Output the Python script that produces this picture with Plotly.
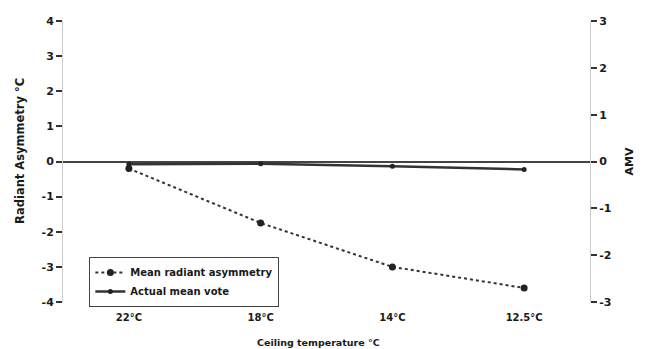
import plotly.graph_objects as go

categories = ["22°C", "18°C", "14°C", "12.5°C"]
mean_radiant_asymmetry = [-0.2, -1.75, -3.0, -3.6]
actual_mean_vote = [-0.06, -0.05, -0.1, -0.17]
left_ticks = [-4, -3, -2, -1, 0, 1, 2, 3, 4]
right_ticks = [-3, -2, -1, 0, 1, 2, 3]

FAM = "DejaVu Sans, Liberation Sans, Arial, sans-serif"
INK = "#333333"
TXT = "#1a1a1a"

def f(size):
    return dict(family=FAM, size=size, color=TXT, weight="bold")

fig = go.Figure()
fig.add_trace(go.Scatter(
    x=categories, y=mean_radiant_asymmetry, name="Mean radiant asymmetry",
    mode="lines+markers",
    line=dict(color=INK, width=2, dash="dot"),
    marker=dict(color="#222222", size=7, symbol="circle"),
    yaxis="y",
))
fig.add_trace(go.Scatter(
    x=categories, y=actual_mean_vote, name="Actual mean vote",
    mode="lines+markers",
    line=dict(color=INK, width=2.5),
    marker=dict(color="#222222", size=5, symbol="circle"),
    yaxis="y2",
))

fig.update_layout(
    width=646, height=349,
    margin=dict(l=63, r=56, t=21, b=47),
    paper_bgcolor="white", plot_bgcolor="white",
    font=f(10),
    showlegend=True,
    legend=dict(
        x=0.05, y=0.16, xanchor="left", yanchor="top",
        bgcolor="rgba(255,255,255,0)", bordercolor="#444444", borderwidth=1,
        font=f(10),
        tracegroupgap=0, itemwidth=30,
    ),
    xaxis=dict(
        type="category", range=[-0.5, 3.5], showgrid=False, zeroline=False, showline=False,
        ticks="", tickfont=f(10), ticklabelstandoff=8,
    ),
    yaxis=dict(
        range=[-4, 4], tickvals=left_ticks, ticktext=[str(v) for v in left_ticks],
        showgrid=False,
        zeroline=True, zerolinecolor="#444444", zerolinewidth=2,
        showline=True, linecolor="#cccccc", linewidth=1,
        ticks="outside", ticklen=6, tickcolor="#333333", tickwidth=1.5,
        tickfont=f(11),
    ),
    yaxis2=dict(
        range=[-3, 3], tickvals=right_ticks, ticktext=[str(v) for v in right_ticks],
        overlaying="y", side="right",
        showgrid=False, zeroline=False,
        showline=True, linecolor="#cccccc", linewidth=1,
        ticks="outside", ticklen=6, tickcolor="#333333", tickwidth=1.5,
        tickfont=f(11),
        title=dict(text="AMV", font=f(11), standoff=14),
    ),
    annotations=[
        dict(text="Radiant Asymmetry °C", xref="paper", yref="paper",
             x=-0.082, y=0.537, xanchor="center", yanchor="middle",
             textangle=-90, showarrow=False, font=f(11.5)),
        dict(text="Ceiling temperature °C", xref="paper", yref="paper",
             x=0.485, y=-0.145, xanchor="center", yanchor="middle",
             showarrow=False, font=f(9.5)),
    ],
)

fig.write_html("out.html")
